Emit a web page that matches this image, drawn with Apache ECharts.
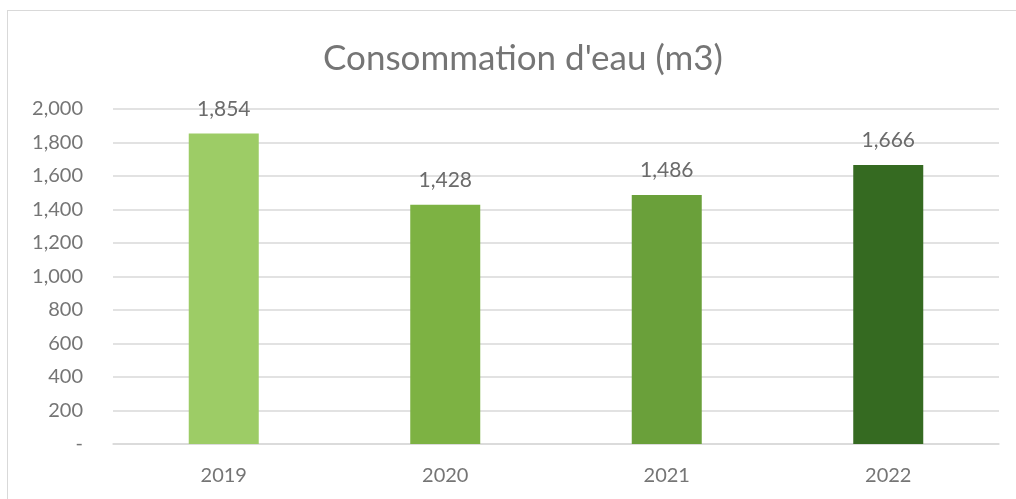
<!DOCTYPE html>
<html>
<head>
<meta charset="utf-8">
<script src="https://cdn.jsdelivr.net/npm/echarts@6/dist/echarts.min.js"></script>
<style>
  html, body { margin: 0; padding: 0; background: #fff; }
  #frame {
    position: absolute; left: 7px; top: 10px; width: 1040px; height: 520px;
    border: 1px solid #d9d9d9; box-sizing: border-box;
  }
  #chart { position: absolute; left: 0; top: 0; width: 1016px; height: 499px; }
</style>
</head>
<body>
<div id="frame"></div>
<div id="chart"></div>
<script>
const years = ["2019", "2020", "2021", "2022"];
const consumption = [1854, 1428, 1486, 1666];
const barColors = ["#9DCC66", "#7DB243", "#6AA03A", "#356A21"];

const fmt = v => v === 0 ? "-" : v.toLocaleString("en-US");

let myChart = echarts.init(document.getElementById("chart"));
let options = {
  animation: false,
  textStyle: { fontFamily: "Lato" },
  title: {
    text: "Consommation d'eau (m3)",
    left: 518,
    top: 36,
    textAlign: "center",
    textStyle: { color: "#757575", fontSize: 35, fontWeight: "normal", fontFamily: "Lato" },
  },
  grid: { left: 113, right: 17, top: 109, bottom: 55 },
  xAxis: {
    type: "category",
    data: years,
    axisLine: { lineStyle: { color: "#d9d9d9", width: 1.5 } },
    axisTick: { show: false },
    axisLabel: { color: "#757575", fontSize: 20, margin: 22 },
  },
  yAxis: {
    type: "value",
    min: 0,
    max: 2000,
    interval: 200,
    axisLine: { show: false },
    axisTick: { show: false },
    splitLine: { lineStyle: { color: "#d9d9d9", width: 1.5 } },
    axisLabel: { color: "#757575", fontSize: 20, margin: 30, formatter: fmt },
  },
  series: [
    {
      type: "bar",
      barWidth: 70,
      data: consumption.map((v, i) => ({ value: v, itemStyle: { color: barColors[i] } })),
      label: {
        show: true,
        position: "top",
        distance: 14,
        color: "#6b6b6b",
        fontSize: 21,
        formatter: p => fmt(p.value),
      },
    },
  ],
};
myChart.setOption(options);
</script>
</body>
</html>
